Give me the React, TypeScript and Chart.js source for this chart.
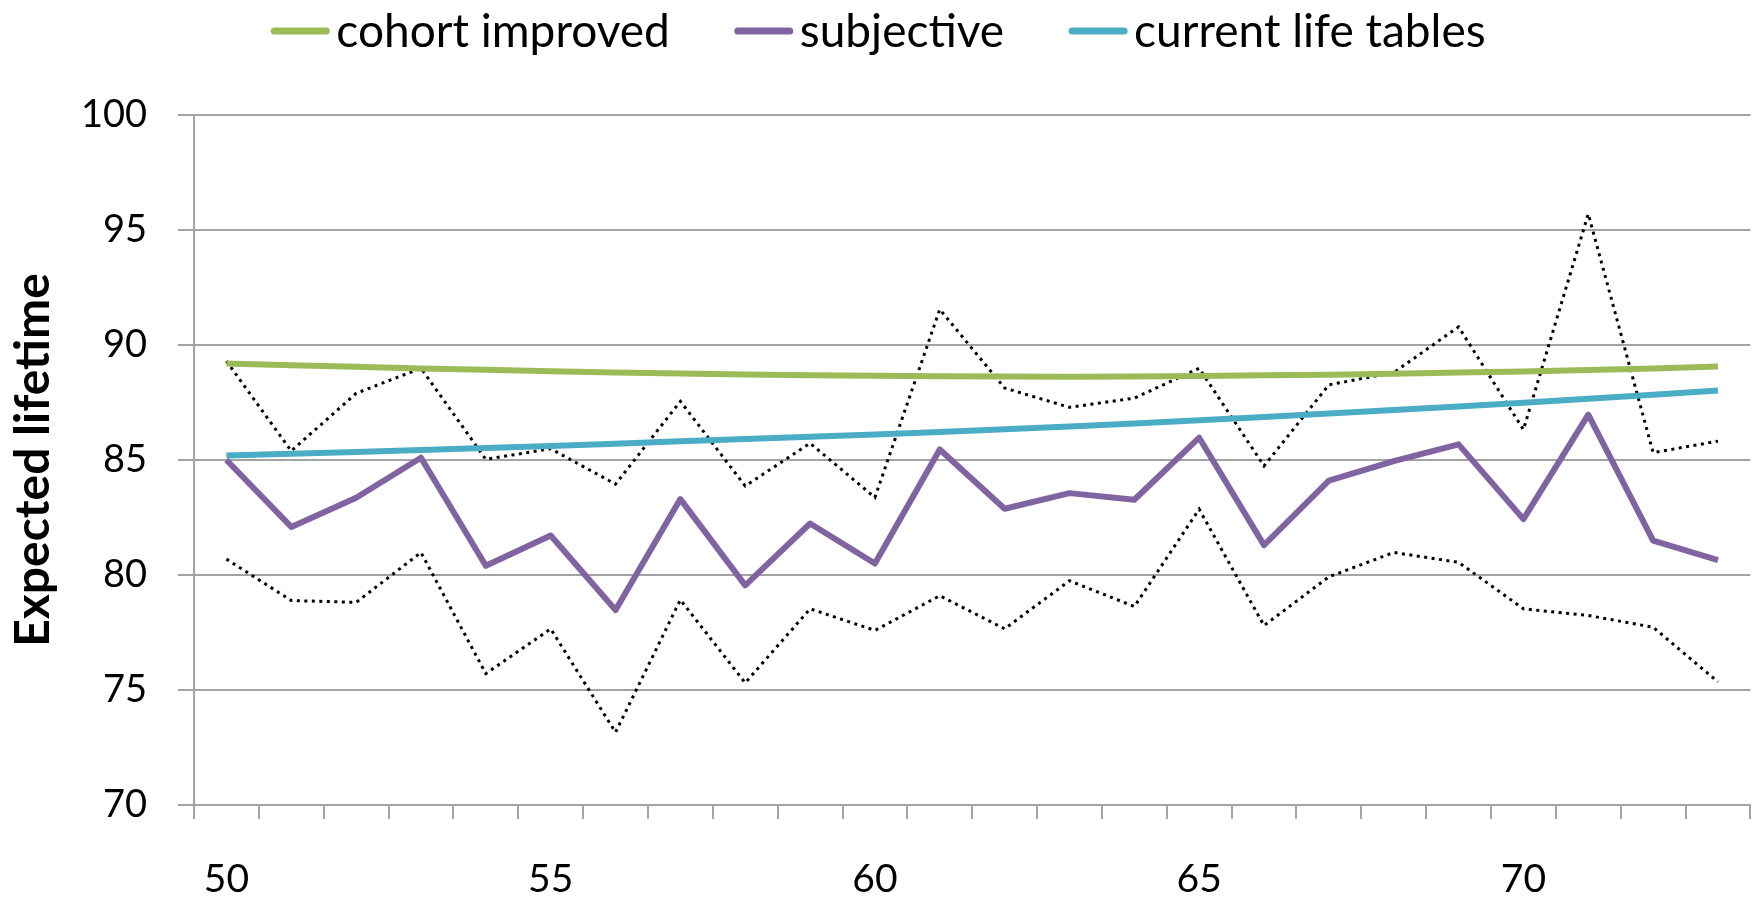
import React, { useEffect, useRef } from "react";
import { Chart, registerables } from "chart.js";

Chart.register(...registerables);

// Age at which the expectation is reported
const ages = [
  "50", "51", "52", "53", "54", "55", "56", "57", "58", "59", "60", "61",
  "62", "63", "64", "65", "66", "67", "68", "69", "70", "71", "72", "73",
];

// Expected lifetime by method
const cohortImproved = [
  89.2, 89.12, 89.05, 88.98, 88.92, 88.86, 88.8, 88.76, 88.72, 88.69, 88.66, 88.64,
  88.63, 88.62, 88.63, 88.65, 88.68, 88.71, 88.75, 88.8, 88.85, 88.91, 88.98, 89.06,
];
const subjective = [
  85.0, 82.09, 83.36, 85.1, 80.4, 81.72, 78.48, 83.3, 79.55, 82.24, 80.5, 85.46,
  82.88, 83.56, 83.27, 85.97, 81.3, 84.1, 84.95, 85.68, 82.43, 86.97, 81.49, 80.65,
];
const currentLifeTables = [
  85.2, 85.27, 85.35, 85.43, 85.52, 85.61, 85.71, 85.81, 85.91, 86.01, 86.11, 86.22,
  86.34, 86.46, 86.59, 86.73, 86.87, 87.02, 87.17, 87.33, 87.49, 87.66, 87.84, 88.02,
];

// Confidence band around the subjective expectation
const subjectiveUpper = [
  89.3, 85.39, 87.9, 88.99, 85.03, 85.49, 83.95, 87.55, 83.87, 85.73, 83.37, 91.55,
  88.13, 87.29, 87.69, 88.99, 84.74, 88.27, 88.8, 90.79, 86.32, 95.7, 85.32, 85.82,
];
const subjectiveLower = [
  80.69, 78.89, 78.81, 80.98, 75.71, 77.66, 73.16, 78.92, 75.31, 78.53, 77.59, 79.1,
  77.66, 79.75, 78.63, 82.86, 77.8, 79.92, 80.98, 80.55, 78.53, 78.24, 77.73, 75.35,
];

const yTicks = { min: 70, max: 100, step: 5 };
const xLabelEvery = 5;

const seriesNames = ["cohort improved", "subjective", "current life tables"];
const seriesColors = ["#9bbb59", "#8064a2", "#4bacc6"];

const FONT = "Lato, 'Open Sans', sans-serif";
const GRID = "#a3a3a3";
const CANVAS_W = 1747;
const CANVAS_H = 892;

const legendAndTitle = {
  id: "legendAndTitle",
  afterDraw(chart: any) {
    const ctx = chart.ctx as CanvasRenderingContext2D;
    const area = chart.chartArea;
    ctx.save();

    // legend row across the top
    ctx.font = `46px ${FONT}`;
    const lineW = 58;
    const textGap = 7;
    const itemGap = 65;
    const widths = seriesNames.map((n) => ctx.measureText(n).width);
    const total =
      widths.reduce((s, w) => s + lineW + textGap + w, 0) + itemGap * (seriesNames.length - 1);
    let x = chart.width / 2 - total / 2 - 3;
    const lineY = 23;
    const baseY = 39;
    seriesNames.forEach((name, i) => {
      ctx.strokeStyle = seriesColors[i];
      ctx.lineWidth = 7;
      ctx.lineCap = "round";
      ctx.beginPath();
      ctx.moveTo(x + 3, lineY);
      ctx.lineTo(x + lineW - 3, lineY);
      ctx.stroke();
      ctx.fillStyle = "#000";
      ctx.textAlign = "left";
      ctx.textBaseline = "alphabetic";
      ctx.fillText(name, x + lineW + textGap, baseY);
      x += lineW + textGap + widths[i] + itemGap;
    });

    // vertical axis title
    ctx.translate(26, (area.top + area.bottom) / 2);
    ctx.rotate(-Math.PI / 2);
    ctx.font = `bold 48px ${FONT}`;
    ctx.textAlign = "center";
    ctx.textBaseline = "middle";
    ctx.fillStyle = "#000";
    ctx.fillText("Expected lifetime", 0, 0);
    ctx.restore();
  },
};

export default function App() {
  const canvasRef = useRef<HTMLCanvasElement | null>(null);

  useEffect(() => {
    if (!canvasRef.current) return;
    const solid = (label: string, data: number[], color: string) => ({
      label,
      data,
      borderColor: color,
      backgroundColor: color,
      borderWidth: 6,
      pointRadius: 0,
      tension: 0,
      borderJoinStyle: "round" as const,
    });
    const dotted = (label: string, data: number[]) => ({
      label,
      data,
      borderColor: "#000",
      backgroundColor: "#000",
      borderWidth: 3,
      borderDash: [3, 4.5],
      pointRadius: 0,
      tension: 0,
    });

    const chart = new Chart(canvasRef.current, {
      type: "line",
      data: {
        labels: ages,
        datasets: [
          solid(seriesNames[0], cohortImproved, seriesColors[0]),
          solid(seriesNames[1], subjective, seriesColors[1]),
          solid(seriesNames[2], currentLifeTables, seriesColors[2]),
          dotted("upper", subjectiveUpper),
          dotted("lower", subjectiveLower),
        ],
      },
      options: {
        animation: false,
        responsive: false,
        layout: { padding: { top: 107, right: 1, left: 0, bottom: 0 } },
        plugins: {
          legend: { display: false },
          tooltip: { enabled: false },
          title: { display: false },
        },
        scales: {
          x: {
            type: "category",
            offset: true,
            afterFit: (scale: any) => {
              scale.height = CANVAS_H - 797;
            },
            grid: {
              offset: true,
              drawOnChartArea: false,
              drawTicks: true,
              tickLength: 14,
              color: GRID,
              lineWidth: 2,
            },
            border: { display: true, color: GRID, width: 2 },
            ticks: {
              autoSkip: false,
              maxRotation: 0,
              padding: 37,
              color: "#000",
              font: { family: FONT, size: 39 },
              callback: function (this: any, _v: any, index: number) {
                const lab = ages[index];
                return Number(lab) % xLabelEvery === 0 ? lab : "";
              },
            },
          },
          y: {
            min: yTicks.min,
            max: yTicks.max,
            afterFit: (scale: any) => {
              scale.width = 186;
            },
            grid: {
              color: GRID,
              lineWidth: 2,
              tickLength: 16,
              drawTicks: true,
            },
            border: { display: true, color: GRID, width: 2 },
            ticks: {
              stepSize: yTicks.step,
              padding: 31,
              color: "#000",
              font: { family: FONT, size: 38 },
            },
          },
        },
      },
      plugins: [legendAndTitle],
    });
    return () => chart.destroy();
  }, []);

  return (
    <div style={{ width: CANVAS_W, height: CANVAS_H, marginBottom: -8 }}>
      <canvas
        ref={canvasRef}
        width={CANVAS_W}
        height={CANVAS_H}
        style={{ display: "block" }}
      />
    </div>
  );
}
